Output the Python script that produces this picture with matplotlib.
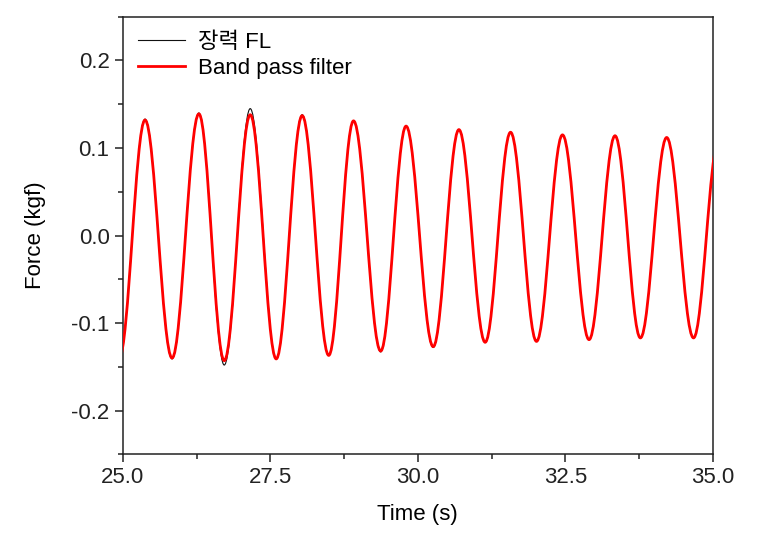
import numpy as np
import matplotlib.pyplot as plt
from matplotlib.path import Path
from matplotlib.patches import PathPatch
from matplotlib.lines import Line2D

plt.rcParams['font.family'] = ['Liberation Sans', 'Noto Sans CJK KR', 'DejaVu Sans']
plt.rcParams['font.size'] = 16

# turning points (time in s, force in kgf)
peak_t = [25.378, 26.29, 27.16, 28.04, 28.91, 29.80, 30.695, 31.57, 32.45, 33.34, 34.215]
trough_t = [25.836, 26.72, 27.60, 28.49, 29.37, 30.26, 31.14, 32.01, 32.90, 33.77, 34.67]

peak_bp = [0.132, 0.139, 0.138, 0.137, 0.131, 0.125, 0.121, 0.118, 0.115, 0.114, 0.112]
trough_bp = [-0.140, -0.143, -0.141, -0.137, -0.132, -0.127, -0.122, -0.121, -0.119, -0.117, -0.117]

peak_fl = [0.133, 0.140, 0.145, 0.138, 0.131, 0.125, 0.121, 0.118, 0.115, 0.114, 0.112]
trough_fl = [-0.141, -0.148, -0.141, -0.137, -0.133, -0.128, -0.122, -0.121, -0.119, -0.117, -0.117]

# estimated turning points just outside the window (clipped away)
t_before, v_before = 24.94, -0.140
t_after, v_after = 35.10, 0.110


def wave(ax, peaks, troughs, color, lw, z):
    t = [t_before]
    v = [v_before]
    for a, b, c, d in zip(peak_t, peaks, trough_t, troughs):
        t += [a, c]
        v += [b, d]
    t.append(t_after)
    v.append(v_after)
    # half-cosine between turning points as cubic bezier pieces
    k = 1 - 2 / np.pi
    verts = [(t[0], v[0])]
    codes = [Path.MOVETO]
    for i in range(1, len(t)):
        dt = t[i] - t[i - 1]
        verts += [(t[i - 1] + k * dt, v[i - 1]), (t[i] - k * dt, v[i]), (t[i], v[i])]
        codes += [Path.CURVE4] * 3
    ax.add_patch(PathPatch(Path(verts, codes), fill=False, edgecolor=color,
                           lw=lw, zorder=z, capstyle='round', joinstyle='round'))


fig = plt.figure(figsize=(7.68, 5.5), dpi=100)
ax = fig.add_axes([0.1598, 0.174, 0.7686, 0.7956])

wave(ax, peak_fl, trough_fl, '#111111', 0.8, 2)
wave(ax, peak_bp, trough_bp, '#ff0000', 2.0, 3)

ax.set_xlim(25, 35)
ax.set_ylim(-0.25, 0.25)
ax.set_xticks([25.0, 27.5, 30.0, 32.5, 35.0])
ax.set_xticks([26.25, 28.75, 31.25, 33.75], minor=True)
ax.set_yticks([-0.2, -0.1, 0.0, 0.1, 0.2])
ax.set_yticks([-0.25, -0.15, -0.05, 0.05, 0.15, 0.25], minor=True)
ax.xaxis.set_major_formatter(plt.FormatStrFormatter('%.1f'))
ax.yaxis.set_major_formatter(plt.FormatStrFormatter('%.1f'))
ax.tick_params(which='both', direction='out', top=False, right=False, width=1.1, colors='#222222')
ax.tick_params(which='major', length=6, pad=3.5)
ax.tick_params(which='minor', length=3.5)
for s in ax.spines.values():
    s.set_linewidth(1.1)
    s.set_color('#222222')

ax.set_xlabel('Time (s)', labelpad=11)
ax.set_ylabel('Force (kgf)', labelpad=18)

handles = [Line2D([], [], color='#111111', lw=0.8),
           Line2D([], [], color='#ff0000', lw=2.0)]
ax.legend(handles, ['장력 FL', 'Band pass filter'], loc='upper left',
          frameon=False, handlelength=2.1, handletextpad=0.6,
          labelspacing=0.2, borderaxespad=0.3, fontsize=16)

fig.savefig('out.png', dpi=100)
